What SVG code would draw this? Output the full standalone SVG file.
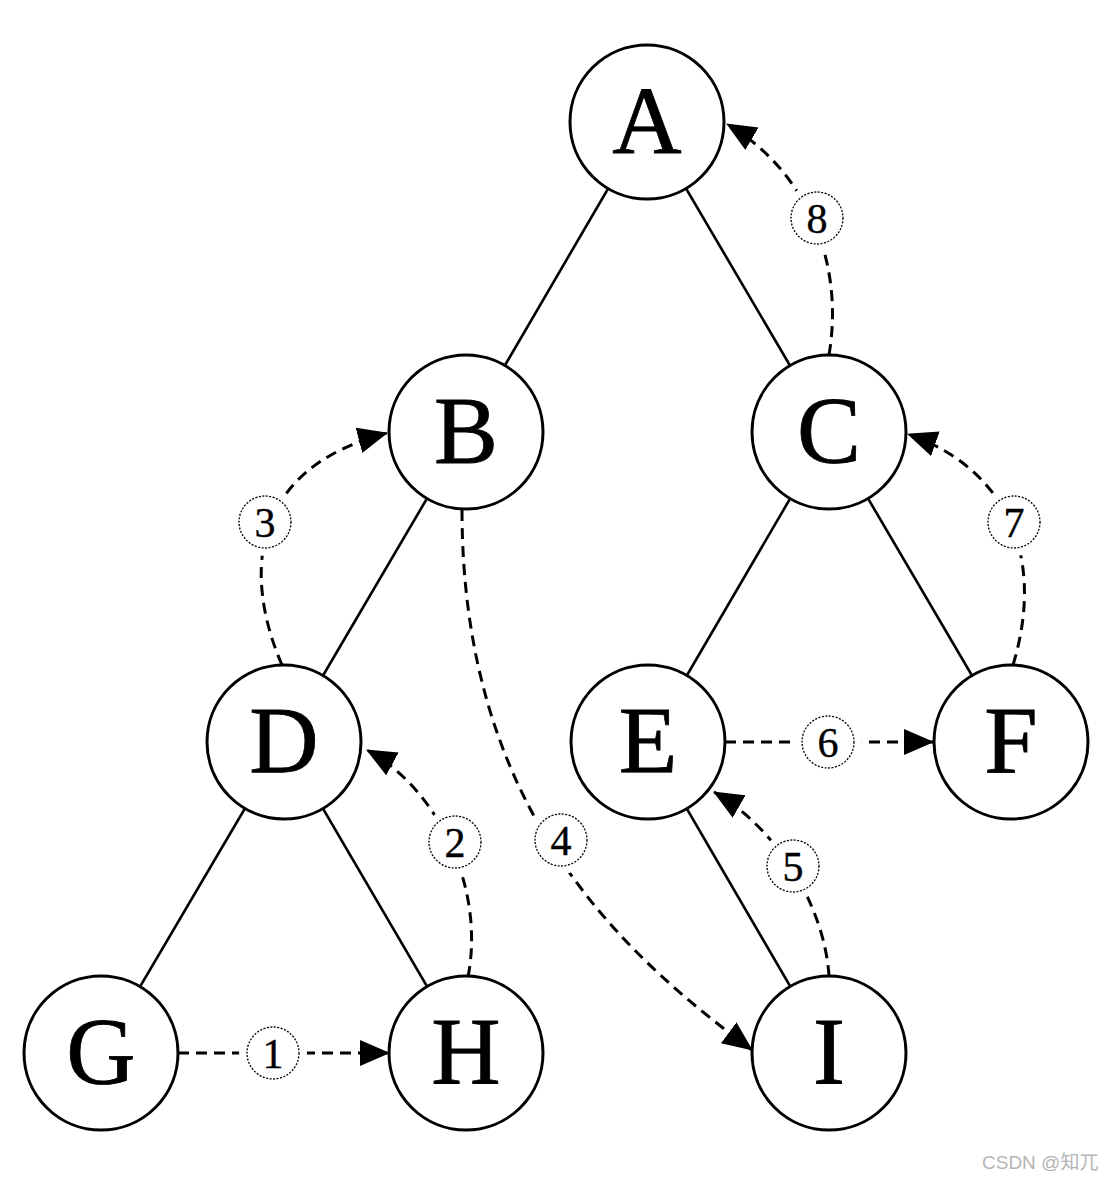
<svg xmlns="http://www.w3.org/2000/svg" width="1112" height="1182" viewBox="0 0 1112 1182">
<style>
.edge{stroke:#000;stroke-width:2.6;fill:none}
.dash{stroke:#000;stroke-width:3;fill:none;stroke-dasharray:11 7;marker-end:url(#ah)}
.node circle{fill:#fff;stroke:#000;stroke-width:3}
.node text{font-family:"Liberation Serif","Times New Roman",serif;font-size:96px;text-anchor:middle;fill:#000;stroke:#000;stroke-width:0.8}
.lbl .bg{fill:#fff;stroke:none}
.lbl .ring{fill:#fff;stroke:#000;stroke-width:1.3;stroke-dasharray:2 1.5}
.lbl text{font-family:"Liberation Serif","Times New Roman",serif;font-size:42px;text-anchor:middle;fill:#000;stroke:#000;stroke-width:0.4}
.wm{font-family:"Liberation Sans","Noto Sans CJK SC",sans-serif;font-size:19px;fill:#b4b4b4}
</style>
<defs>
<marker id="ah" markerUnits="userSpaceOnUse" markerWidth="30" markerHeight="26" viewBox="0 0 30 26" refX="29" refY="13" orient="auto">
<path d="M0,0 L30,13 L0,26 z" fill="#000"/>
</marker>
</defs>
<rect width="1112" height="1182" fill="#fff"/>
<g id="connectors">
<line class="edge" x1="647" y1="122" x2="466" y2="432"/>
<line class="edge" x1="647" y1="122" x2="829" y2="432"/>
<line class="edge" x1="466" y1="432" x2="284" y2="742"/>
<line class="edge" x1="829" y1="432" x2="648" y2="742"/>
<line class="edge" x1="829" y1="432" x2="1011" y2="742"/>
<line class="edge" x1="284" y1="742" x2="101" y2="1053"/>
<line class="edge" x1="284" y1="742" x2="466" y2="1053"/>
<line class="edge" x1="648" y1="742" x2="829" y2="1053"/>
<path class="dash" d="M178,1053 L389,1053"/>
<path class="dash" d="M468,977 C485,890 440,790 367,750"/>
<path class="dash" d="M282,665 C245,580 245,470 387,433"/>
<path class="dash" d="M462,510 C462,800 610,945 752,1050"/>
<path class="dash" d="M829,976 C825,910 780,830 714,792"/>
<path class="dash" d="M725,742 L933,742"/>
<path class="dash" d="M1013,665 C1045,560 1010,470 908,434"/>
<path class="dash" d="M829,355 C845,260 805,170 727,124"/>
<g class="lbl"><circle class="bg" cx="273" cy="1053" r="34"/><circle class="ring" cx="273" cy="1053" r="26"/><text x="273" y="1068">1</text></g>
<g class="lbl"><circle class="bg" cx="455" cy="842" r="34"/><circle class="ring" cx="455" cy="842" r="26"/><text x="455" y="857">2</text></g>
<g class="lbl"><circle class="bg" cx="265" cy="522" r="34"/><circle class="ring" cx="265" cy="522" r="26"/><text x="265" y="537">3</text></g>
<g class="lbl"><circle class="bg" cx="561" cy="840" r="34"/><circle class="ring" cx="561" cy="840" r="26"/><text x="561" y="855">4</text></g>
<g class="lbl"><circle class="bg" cx="793" cy="866" r="34"/><circle class="ring" cx="793" cy="866" r="26"/><text x="793" y="881">5</text></g>
<g class="lbl"><circle class="bg" cx="828" cy="742" r="34"/><circle class="ring" cx="828" cy="742" r="26"/><text x="828" y="757">6</text></g>
<g class="lbl"><circle class="bg" cx="1014" cy="522" r="34"/><circle class="ring" cx="1014" cy="522" r="26"/><text x="1014" y="537">7</text></g>
<g class="lbl"><circle class="bg" cx="817" cy="218" r="34"/><circle class="ring" cx="817" cy="218" r="26"/><text x="817" y="233">8</text></g>
</g>
<g id="node-A" class="node"><circle cx="647" cy="122" r="77"/><text x="647" y="153">A</text></g>
<g id="node-B" class="node"><circle cx="466" cy="432" r="77"/><text x="466" y="463">B</text></g>
<g id="node-C" class="node"><circle cx="829" cy="432" r="77"/><text x="829" y="463">C</text></g>
<g id="node-D" class="node"><circle cx="284" cy="742" r="77"/><text x="284" y="773">D</text></g>
<g id="node-E" class="node"><circle cx="648" cy="742" r="77"/><text x="648" y="773">E</text></g>
<g id="node-F" class="node"><circle cx="1011" cy="742" r="77"/><text x="1011" y="773">F</text></g>
<g id="node-G" class="node"><circle cx="101" cy="1053" r="77"/><text x="101" y="1084">G</text></g>
<g id="node-H" class="node"><circle cx="466" cy="1053" r="77"/><text x="466" y="1084">H</text></g>
<g id="node-I" class="node"><circle cx="829" cy="1053" r="77"/><text x="829" y="1084">I</text></g>
<text class="wm" x="982" y="1169">CSDN @知兀</text>
</svg>
